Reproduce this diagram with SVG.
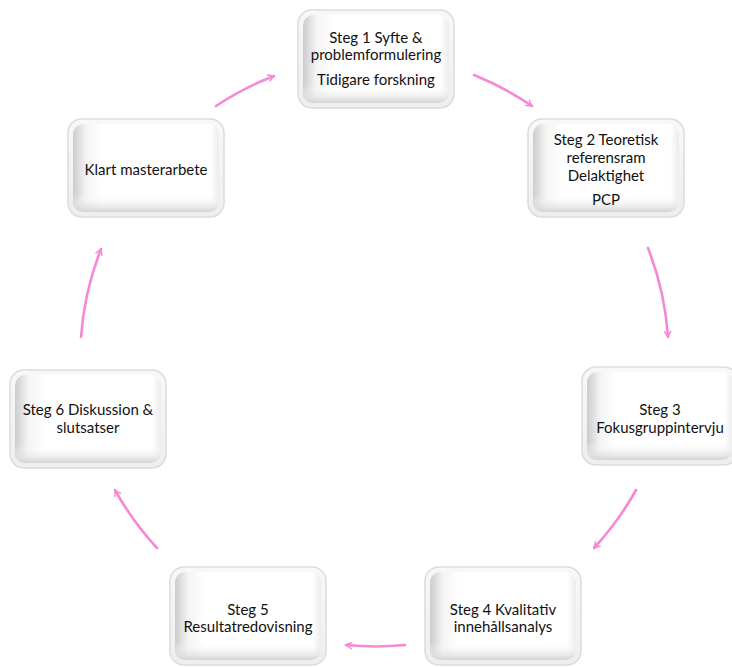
<svg xmlns="http://www.w3.org/2000/svg" width="732" height="667" viewBox="0 0 732 667">
  <defs>
    <linearGradient id="outer" x1="0" y1="0" x2="0" y2="1">
      <stop offset="0" stop-color="#f8f8f8"/>
      <stop offset="1" stop-color="#eeeeee"/>
    </linearGradient>
    <linearGradient id="faceH" x1="0" y1="0" x2="1" y2="0">
      <stop offset="0" stop-color="#cccccc"/>
      <stop offset="0.09" stop-color="#f4f4f4"/>
      <stop offset="0.2" stop-color="#ffffff"/>
      <stop offset="0.94" stop-color="#ffffff"/>
      <stop offset="1" stop-color="#ececec"/>
    </linearGradient>
    <linearGradient id="faceV" x1="0" y1="0" x2="0" y2="1">
      <stop offset="0" stop-color="#ffffff" stop-opacity="0"/>
      <stop offset="0.8" stop-color="#ffffff" stop-opacity="0"/>
      <stop offset="1" stop-color="#d4d4d4" stop-opacity="1"/>
    </linearGradient>
    <symbol id="box" viewBox="0 0 158 100">
      <rect x="1" y="1" width="156" height="98" rx="14" fill="url(#outer)" stroke="#dcdcdc" stroke-width="1.5"/>
      <rect x="6" y="6" width="146" height="88" rx="10" fill="url(#faceH)"/>
      <rect x="6" y="6" width="146" height="88" rx="10" fill="url(#faceV)"/>
    </symbol>
    <marker id="ah" viewBox="0 0 10 10" refX="8" refY="5" markerWidth="8" markerHeight="8" orient="auto" markerUnits="userSpaceOnUse">
      <polyline points="1,1 8,5 1,9" fill="none" stroke="#f589d4" stroke-width="1.8" stroke-linecap="round" stroke-linejoin="round"/>
    </marker>
  </defs>
  <style>
    .t { font-family: Lato, "Liberation Sans", sans-serif; font-size: 15px; fill: #111; text-anchor: middle; }
    .c { fill: none; stroke: #f589d4; stroke-width: 2.6; stroke-linecap: round; marker-end: url(#ah); }
  </style>
  <rect width="732" height="667" fill="#ffffff"/>

  <g id="connectors">
    <path class="c" d="M216,106 A300,300 0 0 1 274,76"/>
    <path class="c" d="M474,75 A300,300 0 0 1 532,106"/>
    <path class="c" d="M648,248 A300,300 0 0 1 668,337"/>
    <path class="c" d="M636,490 A300,300 0 0 1 594,548"/>
    <path class="c" d="M405,645 A300,300 0 0 1 346,645"/>
    <path class="c" d="M157,548 A300,300 0 0 1 115,490"/>
    <path class="c" d="M81,337 A300,300 0 0 1 101,249"/>
  </g>

  <g id="node1">
    <use href="#box" x="297" y="9" width="158" height="100"/>
    <text class="t" x="376" y="43">Steg 1 Syfte &amp;</text>
    <text class="t" x="376" y="60">problemformulering</text>
    <text class="t" x="376" y="85">Tidigare forskning</text>
  </g>
  <g id="node2">
    <use href="#box" x="527" y="118" width="158" height="100"/>
    <text class="t" x="606" y="145">Steg 2 Teoretisk</text>
    <text class="t" x="606" y="163">referensram</text>
    <text class="t" x="606" y="181">Delaktighet</text>
    <text class="t" x="606" y="205">PCP</text>
  </g>
  <g id="node3">
    <use href="#box" x="581" y="366" width="158" height="100"/>
    <text class="t" x="660" y="415">Steg 3</text>
    <text class="t" x="660" y="433">Fokusgruppintervju</text>
  </g>
  <g id="node4">
    <use href="#box" x="424" y="566" width="158" height="100"/>
    <text class="t" x="503" y="615">Steg 4 Kvalitativ</text>
    <text class="t" x="503" y="632">innehållsanalys</text>
  </g>
  <g id="node5">
    <use href="#box" x="169" y="566" width="158" height="100"/>
    <text class="t" x="248" y="615">Steg 5</text>
    <text class="t" x="248" y="632">Resultatredovisning</text>
  </g>
  <g id="node6">
    <use href="#box" x="9" y="369" width="158" height="100"/>
    <text class="t" x="88" y="415">Steg 6 Diskussion &amp;</text>
    <text class="t" x="88" y="433">slutsatser</text>
  </g>
  <g id="node7">
    <use href="#box" x="67" y="118" width="158" height="100"/>
    <text class="t" x="146" y="175">Klart masterarbete</text>
  </g>
</svg>
